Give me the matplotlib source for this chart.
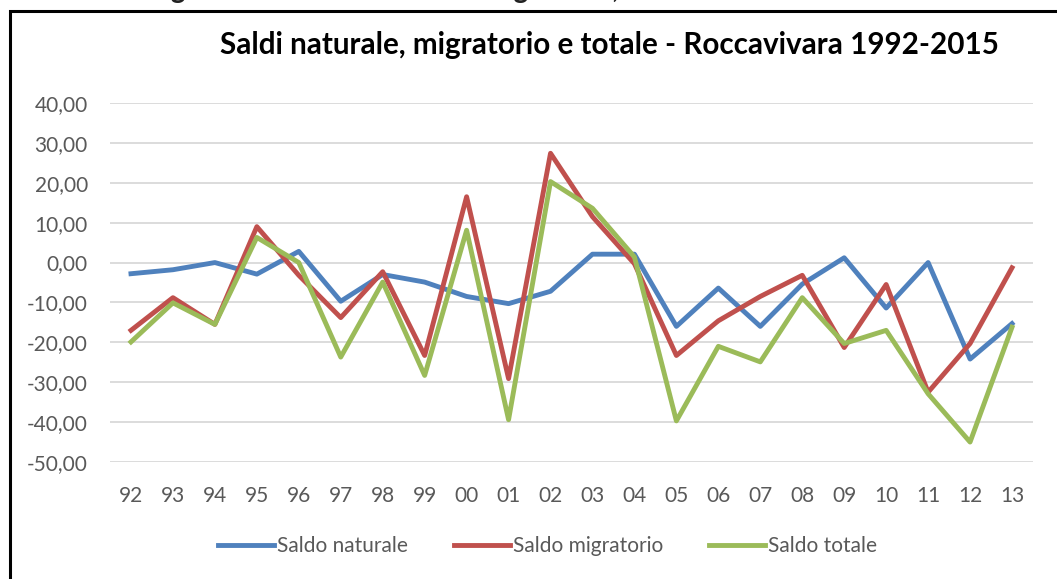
import matplotlib
matplotlib.use("Agg")
import matplotlib.pyplot as plt
from matplotlib.ticker import FuncFormatter, MultipleLocator
from matplotlib.patches import Rectangle

plt.rcParams['font.family'] = ['Lato', 'DejaVu Sans']

anni = ['92', '93', '94', '95', '96', '97', '98', '99', '00', '01', '02',
        '03', '04', '05', '06', '07', '08', '09', '10', '11', '12', '13']

saldo_naturale = [-2.8, -1.8, 0.0, -2.9, 2.8, -9.7, -3.0, -4.9, -8.5, -10.3, -7.2,
                  2.1, 2.1, -16.0, -6.4, -16.0, -5.4, 1.2, -11.4, 0.0, -24.2, -15.3]
saldo_migratorio = [-17.0, -8.8, -15.5, 9.0, -3.2, -13.8, -2.3, -23.3, 16.5, -29.1, 27.4,
                    11.5, -0.3, -23.3, -14.6, -8.5, -3.2, -21.3, -5.5, -32.5, -20.3, -1.3]
saldo_totale = [-19.9, -10.1, -15.5, 6.3, 0.0, -23.7, -4.9, -28.3, 8.1, -39.4, 20.3,
                13.6, 1.4, -39.7, -21.0, -24.9, -8.8, -20.3, -17.0, -32.9, -45.0, -16.2]

titolo = 'Saldi naturale, migratorio e totale - Roccavivara 1992-2015'
didascalia = 'Figura 10: Saldo naturale e migratorio, anni 1992-2015 - Roccavivara'

fig = plt.figure(figsize=(10.57, 5.79), dpi=100)
ax = fig.add_axes([110 / 1057, 1 - 462 / 579, 923 / 1057, 359 / 579])

x = range(len(anni))
ax.plot(x, saldo_naturale, color='#4F81BD', lw=3.5, label='Saldo naturale', solid_joinstyle='round')
ax.plot(x, saldo_migratorio, color='#C0504D', lw=3.5, label='Saldo migratorio', solid_joinstyle='round')
ax.plot(x, saldo_totale, color='#9BBB59', lw=3.5, label='Saldo totale', solid_joinstyle='round')

ax.set_xlim(-0.5, len(anni) - 0.5)
ax.set_ylim(-50, 40)
ax.yaxis.set_major_locator(MultipleLocator(10))
ax.yaxis.set_major_formatter(FuncFormatter(lambda v, p: ('%.2f' % v).replace('.', ',')))
ax.set_xticks(list(x))
ax.set_xticklabels(anni)
ax.grid(axis='y', color='#D9D9D9', lw=1.3)
ax.set_axisbelow(True)
for s in ax.spines.values():
    s.set_visible(False)
ax.tick_params(length=0, labelsize=15, labelcolor='#595959')
ax.tick_params(axis='y', pad=16)
ax.tick_params(axis='x', pad=17)

fig.text(0.577, 1 - 45 / 579, titolo, ha='center', va='center', fontsize=21.3, fontweight='bold')
fig.text(0.542, 1 + 2 / 579, didascalia, ha='center', va='baseline', fontsize=20, fontweight='bold',
         color='#222222')

fig.patches.append(Rectangle((10 / 1057, -0.1), 1.2, 1 - 11 / 579 + 0.1, transform=fig.transFigure,
                             fill=False, edgecolor='black', lw=2.2))

fig.legend(loc='center', bbox_to_anchor=(0.518, 1 - 546 / 579), ncol=3, frameon=False,
           fontsize=15, handlelength=2.7, handletextpad=0.15, columnspacing=2.2,
           labelcolor='#595959')

fig.savefig('out.png', dpi=100)
